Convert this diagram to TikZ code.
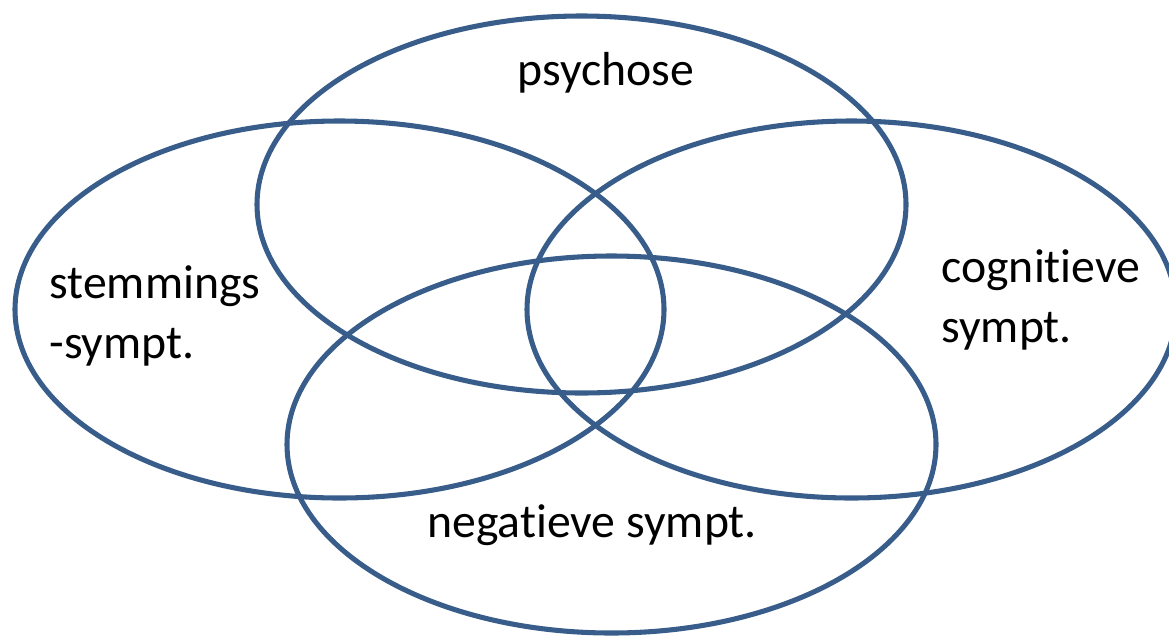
\documentclass[tikz,border=0pt]{standalone}
\usepackage{fontspec}
\setmainfont[Ligatures=NoCommon]{Carlito}
\definecolor{vennblue}{RGB}{56,93,138}
\tikzset{every picture/.style={line width=0.75pt}}
\tikzset{
  venn/.style={draw=vennblue, line width=3.8pt},
  lbl/.style={inner sep=0pt, font=\fontsize{35.8}{45}\selectfont, align=left}
}

\begin{document}
\begin{tikzpicture}[x=0.75pt,y=0.75pt,yscale=-1,xscale=1]
\useasboundingbox (0,0) rectangle (1169,636);

%Shape: Ellipse (psychose)
\draw [venn] (581.5,204.5) ellipse (324.5 and 188.5);
%Shape: Ellipse (stemmings)
\draw [venn] (339.5,309.5) ellipse (324.5 and 188.5);
%Shape: Ellipse (cognitieve)
\draw [venn] (851.5,309.5) ellipse (324.5 and 188.5);
%Shape: Ellipse (negatieve)
\draw [venn] (611.5,444.5) ellipse (324.5 and 188.5);

% Text Node
\node (psy) [lbl, anchor=base west] at (517,85) {psychose};
% Text Node
\node (stem) [lbl, anchor=base west] at (49,358) {stemmings\\-sympt.};
% Text Node
\node (cog) [lbl, anchor=base west] at (941,342) {cognitieve\\sympt.};
% Text Node
\node (neg) [lbl, anchor=base west] at (427,537) {negatieve sympt.};

\end{tikzpicture}
\end{document}
